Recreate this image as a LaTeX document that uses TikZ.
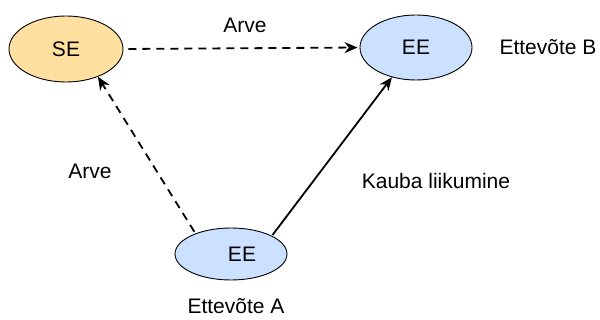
\documentclass[tikz,border=0pt]{standalone}
\usepackage{fontspec}
\setmainfont{Liberation Sans}
\usetikzlibrary{shapes.geometric,arrows.meta}
\definecolor{seorange}{RGB}{255,224,160}
\definecolor{eeblue}{RGB}{204,224,255}
\tikzset{
  party/.style={ellipse, draw=black, line width=0.9pt, inner sep=0pt, font=\fontsize{21}{25}\selectfont},
  lbl/.style={font=\fontsize{21}{25}\selectfont, inner sep=0pt},
  conn/.style={line width=1.8pt, -{Stealth[length=13pt,width=11pt]}},
  dashconn/.style={conn, dash pattern=on 8pt off 6pt},
}
\begin{document}
\begin{tikzpicture}[x=1pt,y=-1pt]
\useasboundingbox (0,0) rectangle (600,320);
\node[party, fill=seorange, minimum width=114pt, minimum height=66pt] (se) at (66,49) {SE};
\node[party, fill=eeblue, minimum width=112pt, minimum height=65pt] (eeB) at (416,47.5) {EE};
\node[party, fill=eeblue, minimum width=112pt, minimum height=52pt] (eeA) at (231,254) {\hspace*{22pt}EE};
\node[lbl] (arve1) at (245,25) {Arve};
\node[lbl] (arve2) at (90,171) {Arve};
\node[lbl] (kauba) at (436,181) {Kauba liikumine};
\node[lbl] (ettB) at (548,47) {Ettevõte B};
\node[lbl] (ettA) at (236,306) {Ettevõte A};
\draw[dashconn, shorten <=5pt, shorten >=2pt] (se.east) -- (eeB.west);
\draw[dashconn, shorten <=2pt] (eeA.150) -- (se.-41);
\draw[conn, shorten <=1pt] (eeA.24) -- (eeB.-129);
\end{tikzpicture}
\end{document}
